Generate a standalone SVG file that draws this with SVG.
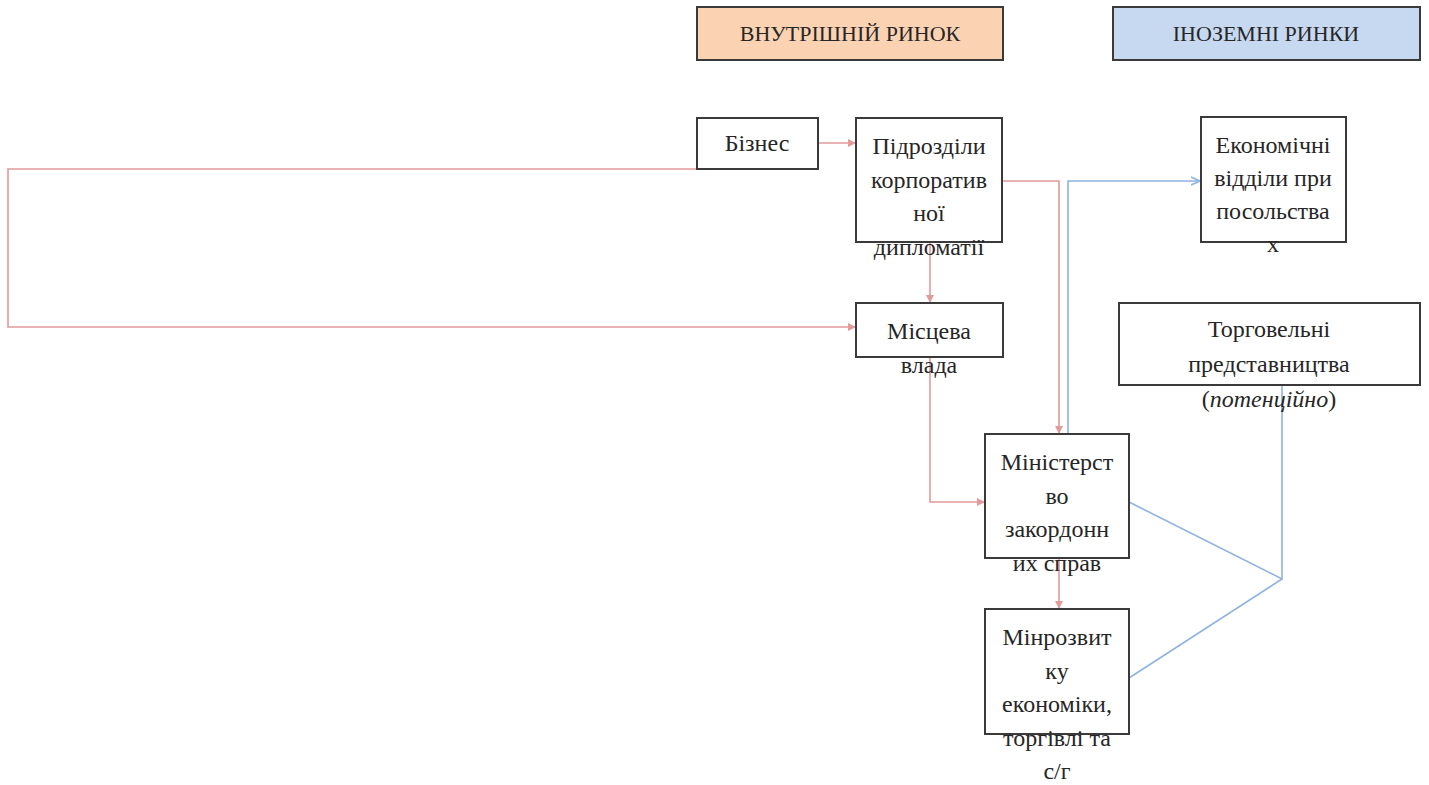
<svg xmlns="http://www.w3.org/2000/svg" width="1429" height="785" viewBox="0 0 1429 785">
<style>
.box{fill:#ffffff;stroke:#3a3a3a;stroke-width:2}
.t{font-family:"Liberation Serif","Times New Roman",serif;font-size:24px;fill:#262626;text-anchor:middle}
.h{font-family:"Liberation Serif","Times New Roman",serif;font-size:22px;fill:#262626;text-anchor:middle}
.red{fill:none;stroke:#e39a9a;stroke-width:1.6}
.blue{fill:none;stroke:#8fb3e0;stroke-width:1.6}
</style>
<defs>
<marker id="ar" viewBox="0 0 8 8" refX="7" refY="4" markerWidth="8" markerHeight="8" markerUnits="userSpaceOnUse" orient="auto">
<path d="M0,0 L8,4 L0,8 z" fill="#e39a9a"/>
</marker>
<marker id="ab" viewBox="0 0 10 10" refX="9" refY="5" markerWidth="10" markerHeight="10" markerUnits="userSpaceOnUse" orient="auto">
<path d="M0,1 L9,5 L0,9" fill="none" stroke="#8fb3e0" stroke-width="1.6"/>
</marker>
</defs>
<rect width="1429" height="785" fill="#ffffff"/>

<g id="header-domestic">
<rect x="697" y="7" width="306" height="53" fill="#fbd3b2" stroke="#3a3a3a" stroke-width="2"/>
<text class="h" x="850" y="41">ВНУТРІШНІЙ РИНОК</text>
</g>
<g id="header-foreign">
<rect x="1113" y="7" width="307" height="53" fill="#c7d9f1" stroke="#3a3a3a" stroke-width="2"/>
<text class="h" x="1266" y="41">ІНОЗЕМНІ РИНКИ</text>
</g>

<g id="connectors">
<path class="red" d="M818,143 H855" marker-end="url(#ar)"/>
<path class="red" d="M757,169 H8 V327 H855" marker-end="url(#ar)"/>
<path class="red" d="M930,242 V302" marker-end="url(#ar)"/>
<path class="red" d="M1002,181 H1059 V433" marker-end="url(#ar)"/>
<path class="red" d="M930,357 V502 H984" marker-end="url(#ar)"/>
<path class="red" d="M1059,558 V608" marker-end="url(#ar)"/>
<path class="blue" d="M1068,434 V181 H1200" marker-end="url(#ab)"/>
<path class="blue" d="M1129,502 L1282,579 V385"/>
<path class="blue" d="M1129,678 L1282,579"/>
</g>

<g id="business">
<rect class="box" x="697" y="118" width="121" height="51"/>
<text class="t" x="757" y="151">Бізнес</text>
</g>
<g id="corp-diplomacy">
<rect class="box" x="856" y="118" width="146" height="124"/>
<text class="t" x="929"><tspan x="929" y="154">Підрозділи</tspan><tspan x="929" y="188">корпоратив</tspan><tspan x="929" y="221">ної</tspan><tspan x="929" y="255">дипломатії</tspan></text>
</g>
<g id="local-gov">
<rect class="box" x="856" y="303" width="147" height="54"/>
<text class="t" x="929"><tspan x="929" y="339">Місцева</tspan><tspan x="929" y="373">влада</tspan></text>
</g>
<g id="mfa">
<rect class="box" x="985" y="434" width="144" height="124"/>
<text class="t" x="1057"><tspan x="1057" y="470">Міністерст</tspan><tspan x="1057" y="504">во</tspan><tspan x="1057" y="537">закордонн</tspan><tspan x="1057" y="571">их справ</tspan></text>
</g>
<g id="min-economy">
<rect class="box" x="985" y="609" width="144" height="125"/>
<text class="t" x="1057"><tspan x="1057" y="645">Мінрозвит</tspan><tspan x="1057" y="679">ку</tspan><tspan x="1057" y="712">економіки,</tspan><tspan x="1057" y="746">торгівлі та</tspan><tspan x="1057" y="779">с/г</tspan></text>
</g>
<g id="econ-departments">
<rect class="box" x="1201" y="117" width="145" height="125"/>
<text class="t" x="1273"><tspan x="1273" y="153">Економічні</tspan><tspan x="1273" y="186">відділи при</tspan><tspan x="1273" y="219">посольства</tspan><tspan x="1273" y="252">х</tspan></text>
</g>
<g id="trade-missions">
<rect class="box" x="1119" y="303" width="301" height="82"/>
<text class="t" x="1269"><tspan x="1269" y="337">Торговельні</tspan><tspan x="1269" y="372">представництва</tspan><tspan x="1269" y="407">(<tspan font-style="italic">потенційно</tspan>)</tspan></text>
</g>
</svg>
